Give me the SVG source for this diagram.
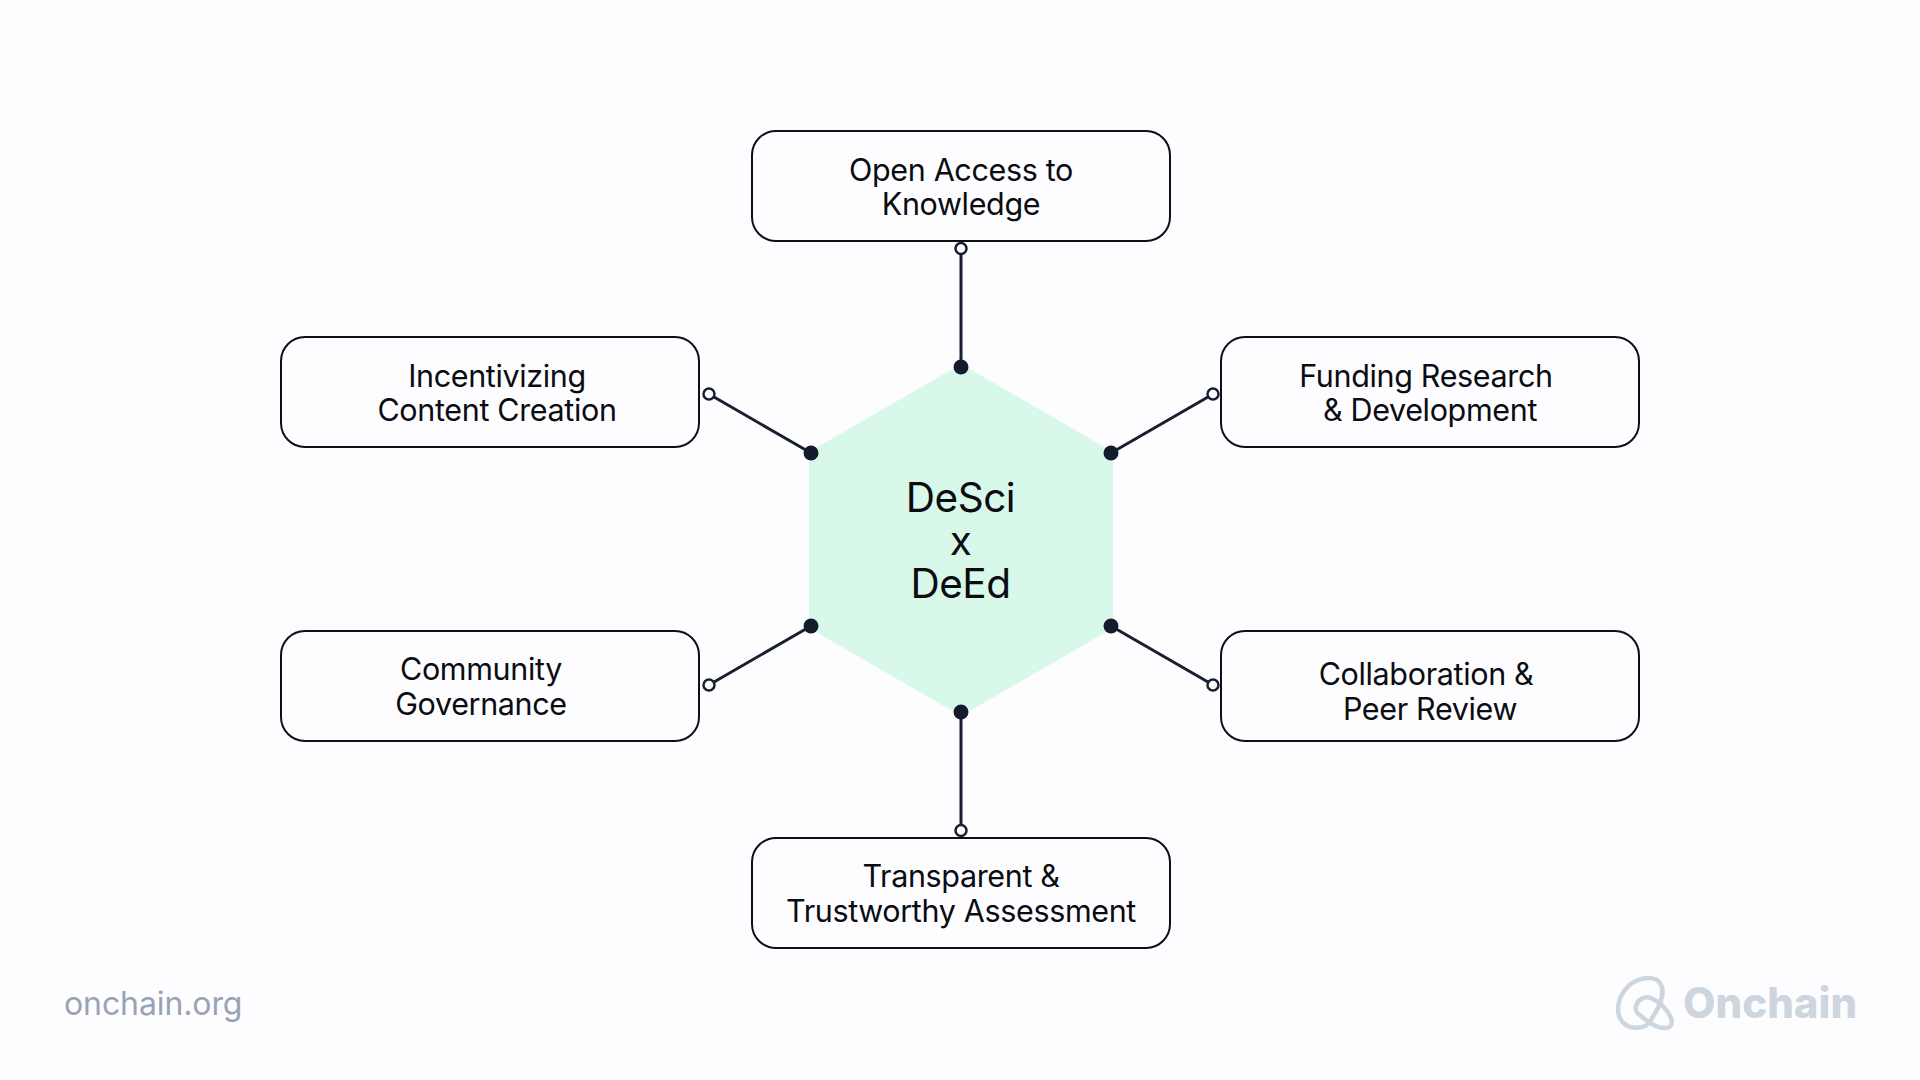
<svg xmlns="http://www.w3.org/2000/svg" width="1920" height="1080" viewBox="0 0 1920 1080">
<style>
.box{fill:#fdfdff;stroke:#0b0f19;stroke-width:2}
.t{font-family:Inter,"Liberation Sans",sans-serif;font-size:30.500px;letter-spacing:-0.350px;fill:#0a0c12;text-anchor:middle}
.c{font-size:40.500px;letter-spacing:-0.500px}
.ln{stroke:#171f30;stroke-width:3;fill:none}
.o{fill:#fdfdff;stroke:#171f30;stroke-width:2.500}
.f{fill:#131b2c}
</style>
<rect width="1920" height="1080" fill="#fdfdff"/>
<g id="hub">
<polygon points="961,364 1113,452 1113,628 961,716 809,628 809,452" fill="#d8f8ea"/>
<text class="t c" x="960.500" y="512">DeSci</text>
<text class="t c" x="960.500" y="555">x</text>
<text class="t c" x="960.500" y="598">DeEd</text>
</g>
<g id="connectors">
<line class="ln" x1="961" y1="254" x2="961" y2="367"/><circle class="o" cx="961" cy="248.500" r="5.500"/><circle class="f" cx="961" cy="367" r="7.500"/>
<line class="ln" x1="1208" y1="397" x2="1111" y2="453"/><circle class="o" cx="1213" cy="394" r="5.500"/><circle class="f" cx="1111" cy="453" r="7.500"/>
<line class="ln" x1="1208" y1="682" x2="1111" y2="626"/><circle class="o" cx="1213" cy="685" r="5.500"/><circle class="f" cx="1111" cy="626" r="7.500"/>
<line class="ln" x1="961" y1="825" x2="961" y2="712"/><circle class="o" cx="961" cy="830.500" r="5.500"/><circle class="f" cx="961" cy="712" r="7.500"/>
<line class="ln" x1="714" y1="682" x2="811" y2="626"/><circle class="o" cx="709" cy="685" r="5.500"/><circle class="f" cx="811" cy="626" r="7.500"/>
<line class="ln" x1="714" y1="397" x2="811" y2="453"/><circle class="o" cx="709" cy="394" r="5.500"/><circle class="f" cx="811" cy="453" r="7.500"/>
</g>
<g id="n1"><rect class="box" x="752" y="131" width="418" height="110" rx="24"/><text class="t" x="961" y="180.500">Open Access to</text><text class="t" x="961" y="215">Knowledge</text></g>
<g id="n2"><rect class="box" x="1221" y="337" width="418" height="110" rx="24"/><text class="t" x="1426" y="386.500">Funding Research</text><text class="t" x="1430" y="421">&amp; Development</text></g>
<g id="n3"><rect class="box" x="1221" y="631" width="418" height="110" rx="24"/><text class="t" x="1426" y="685">Collaboration &amp;</text><text class="t" x="1430" y="720">Peer Review</text></g>
<g id="n4"><rect class="box" x="752" y="838" width="418" height="110" rx="24"/><text class="t" x="961" y="887">Transparent &amp;</text><text class="t" x="961" y="922">Trustworthy Assessment</text></g>
<g id="n5"><rect class="box" x="281" y="631" width="418" height="110" rx="24"/><text class="t" x="481" y="680">Community</text><text class="t" x="481" y="715">Governance</text></g>
<g id="n6"><rect class="box" x="281" y="337" width="418" height="110" rx="24"/><text class="t" x="497" y="386.500">Incentivizing</text><text class="t" x="497" y="421">Content Creation</text></g>
<text x="64" y="1015" font-family="Inter,'Liberation Sans',sans-serif" font-size="32" letter-spacing="-0.100" fill="#98a3b5">onchain.org</text>
<g id="logo" fill="none" stroke="#cdd5df" stroke-width="4.500" stroke-linejoin="round">
<path d="M1630 1027C1622 1024 1618 1017 1618 1009C1618 997 1627 984 1638 980C1646 977 1656 977 1660 983C1665 990 1662 999 1658 1008L1651 1020C1648 1026 1641 1029 1630 1027Z"/>
<path d="M1636 1006C1638 999 1645 996 1651 998C1660 1002 1668 1010 1671 1018C1673 1024 1671 1028 1665 1028C1658 1028 1651 1024 1646 1020C1640 1015 1634 1012 1636 1006Z"/>
</g>
<text x="1683" y="1018" font-family="Inter,'Liberation Sans',sans-serif" font-size="42" font-weight="800" fill="#cdd5df">Onchain</text>
</svg>
